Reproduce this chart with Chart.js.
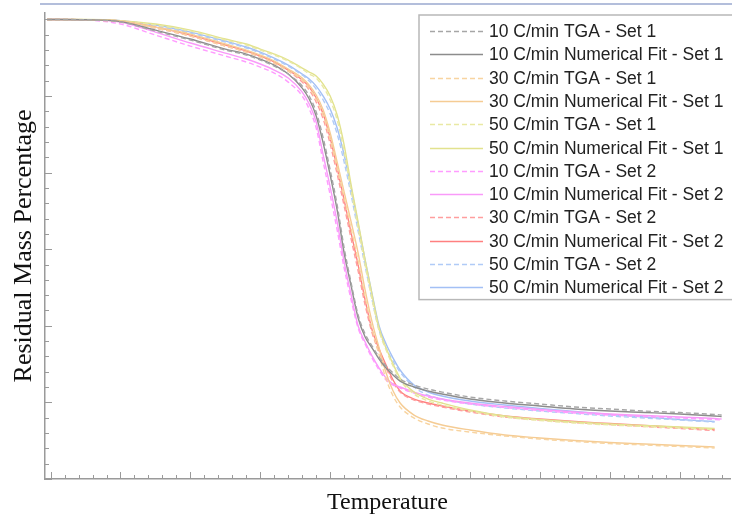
<!DOCTYPE html>
<html>
<head>
<meta charset="utf-8">
<title>Residual Mass Percentage vs Temperature</title>
<script src="https://cdn.jsdelivr.net/npm/chart.js@4.4.1/dist/chart.umd.min.js"></script>
<style>
  html, body { margin: 0; padding: 0; background: #fff; }
  #wrap { position: relative; width: 732px; height: 521px; }
  #topRule { position: absolute; left: 40px; top: 3px; width: 692px; height: 2px; background: #b3bedb; }
</style>
</head>
<body>
<div id="wrap">
  <div id="topRule"></div>
  <canvas id="mainChart"></canvas>
</div>
<script>
// Temperature points shared by every curve
const temperatures = [-5, 50, 100, 150, 200, 250, 280, 300, 320, 340, 360, 370, 380, 390, 400, 410, 420, 430, 440, 450,
  460, 470, 480, 490, 500, 520, 540, 560, 600, 650, 700, 750, 800, 850, 900, 950, 960];

// Residual mass (%) per curve
const tga10Set1 = [100.0, 99.96, 99.66, 98.48, 97.31, 96.00, 95.35, 94.70, 93.91, 92.87, 91.30, 90.00, 87.91, 84.51, 80.33, 75.76, 70.15, 65.58, 61.41, 58.93,
  57.36, 55.92, 54.75, 53.84, 53.05, 52.27, 51.75, 51.35, 50.70, 50.18, 49.79, 49.40, 49.14, 48.87, 48.68, 48.42, 48.35];
const fit10Set1 = [100.0, 99.96, 99.72, 98.61, 97.44, 96.13, 95.48, 94.83, 94.04, 92.87, 91.04, 89.61, 87.39, 83.86, 79.68, 75.11, 69.50, 65.19, 61.02, 58.53,
  57.10, 55.66, 54.49, 53.57, 52.79, 52.01, 51.49, 51.09, 50.44, 49.92, 49.53, 49.14, 48.87, 48.68, 48.48, 48.22, 48.16];
const tga30Set1 = [100.0, 99.95, 99.66, 98.87, 97.83, 96.53, 95.74, 95.09, 94.31, 93.26, 92.09, 91.04, 89.61, 87.52, 84.38, 80.60, 76.68, 72.63, 68.45, 63.76,
  59.58, 56.18, 53.05, 50.83, 49.40, 47.96, 47.18, 46.66, 46.13, 45.61, 45.22, 44.89, 44.63, 44.44, 44.24, 44.05, null];
const fit30Set1 = [100.0, 99.97, 99.79, 99.00, 98.09, 96.79, 96.00, 95.35, 94.57, 93.52, 92.35, 91.43, 90.13, 88.17, 85.17, 81.38, 77.46, 73.55, 69.50, 64.67,
  60.49, 57.10, 53.84, 51.49, 49.92, 48.35, 47.57, 47.05, 46.39, 45.74, 45.35, 45.02, 44.76, 44.57, 44.37, 44.17, null];
const tga50Set1 = [100.0, 99.97, 99.79, 99.27, 98.48, 97.31, 96.66, 96.00, 95.35, 94.57, 93.52, 92.87, 92.35, 91.17, 89.47, 86.86, 82.69, 77.60, 72.76, 67.93,
  63.37, 59.32, 56.84, 54.75, 52.92, 51.09, 50.18, 49.66, 48.87, 48.09, 47.64, 47.31, 47.05, 46.85, 46.66, 46.46, null];
const fit50Set1 = [100.0, 99.99, 99.85, 99.40, 98.61, 97.44, 96.79, 96.13, 95.48, 94.70, 93.65, 93.13, 92.61, 91.56, 90.00, 87.52, 83.60, 78.38, 73.55, 68.59,
  64.02, 59.71, 57.10, 55.01, 53.18, 51.36, 50.44, 49.92, 49.01, 48.22, 47.77, 47.44, 47.18, 46.98, 46.79, 46.59, null];
const tga10Set2 = [100.0, 99.92, 99.40, 97.96, 96.52, 95.22, 94.44, 93.78, 93.00, 91.82, 90.00, 88.30, 85.82, 81.38, 77.07, 72.50, 67.54, 63.37, 59.71, 57.62,
  55.79, 54.23, 52.92, 52.27, 51.88, 51.22, 50.70, 50.31, 49.79, 49.33, 48.94, 48.61, 48.35, 48.16, 47.96, 47.76, 47.70];
const fit10Set2 = [100.0, 99.97, 99.66, 98.35, 96.92, 95.61, 94.83, 94.18, 93.39, 92.35, 90.52, 88.95, 86.60, 82.30, 78.12, 73.55, 68.33, 64.02, 59.97, 57.88,
  56.05, 54.49, 53.18, 52.40, 52.01, 51.35, 50.83, 50.44, 49.92, 49.46, 49.07, 48.74, 48.48, 48.29, 48.09, 47.89, 47.83];
const tga30Set2 = [100.0, 99.96, 99.72, 98.87, 97.83, 96.53, 95.74, 95.09, 94.31, 93.26, 91.82, 90.78, 89.21, 86.99, 83.73, 79.81, 75.64, 71.33, 67.15, 62.71,
  59.06, 56.58, 54.49, 52.66, 51.35, 50.31, 49.79, 49.40, 48.74, 48.09, 47.70, 47.37, 47.11, 46.85, 46.59, 46.33, null];
const fit30Set2 = [100.0, 99.97, 99.79, 99.00, 97.96, 96.66, 95.87, 95.22, 94.44, 93.39, 92.09, 91.17, 89.74, 87.65, 84.51, 80.60, 76.42, 72.11, 67.93, 63.37,
  59.45, 56.97, 54.88, 52.92, 51.49, 50.44, 49.92, 49.53, 48.87, 48.22, 47.83, 47.50, 47.24, 46.98, 46.72, 46.46, null];
const tga50Set2 = [100.0, 99.96, 99.79, 99.14, 98.22, 97.05, 96.27, 95.61, 94.83, 93.91, 92.74, 91.96, 90.91, 89.48, 87.65, 85.04, 81.38, 77.07, 72.37, 67.80,
  63.37, 59.45, 57.10, 55.40, 53.97, 52.01, 50.96, 50.44, 49.79, 49.27, 48.87, 48.55, 48.22, 47.96, 47.70, 47.44, null];
const fit50Set2 = [100.0, 99.97, 99.85, 99.27, 98.35, 97.18, 96.40, 95.74, 94.96, 94.04, 92.87, 92.22, 91.30, 89.99, 88.30, 85.82, 82.30, 77.99, 73.29, 68.59,
  64.15, 59.97, 57.62, 55.79, 54.23, 52.27, 51.36, 50.83, 50.18, 49.66, 49.20, 48.81, 48.42, 48.09, 47.77, 47.50, null];

// Axis ticks (no labels in the original, only tick marks)
const xMajorTicks = [0, 100, 200, 300, 400, 500, 600, 700, 800, 900];
const yMajorTicks = [40, 50, 60, 70, 80, 90, 100];
const minorPerMajor = 5;

const series = [
  { label: '10 C/min TGA - Set 1', values: tga10Set1, color: '#a6a6a6', dashed: true },
  { label: '10 C/min Numerical Fit - Set 1', values: fit10Set1, color: '#8c8c8c', dashed: false },
  { label: '30 C/min TGA - Set 1', values: tga30Set1, color: '#f8d4a0', dashed: true },
  { label: '30 C/min Numerical Fit - Set 1', values: fit30Set1, color: '#f5cc94', dashed: false },
  { label: '50 C/min TGA - Set 1', values: tga50Set1, color: '#e9e9a4', dashed: true },
  { label: '50 C/min Numerical Fit - Set 1', values: fit50Set1, color: '#e2e28e', dashed: false },
  { label: '10 C/min TGA - Set 2', values: tga10Set2, color: '#ff9cff', dashed: true },
  { label: '10 C/min Numerical Fit - Set 2', values: fit10Set2, color: '#f99af9', dashed: false },
  { label: '30 C/min TGA - Set 2', values: tga30Set2, color: '#ff9e9e', dashed: true },
  { label: '30 C/min Numerical Fit - Set 2', values: fit30Set2, color: '#ff8080', dashed: false },
  { label: '50 C/min TGA - Set 2', values: tga50Set2, color: '#b0cbf7', dashed: true },
  { label: '50 C/min Numerical Fit - Set 2', values: fit50Set2, color: '#a3c0f5', dashed: false }
];

function buildTicks(majors, max) {
  const ticks = [];
  const step = (majors[1] - majors[0]) / minorPerMajor;
  majors.forEach((m, i) => {
    ticks.push({ value: m, major: true });
    const next = i < majors.length - 1 ? majors[i + 1] : max;
    for (let v = m + step; v < next - 1e-6; v += step) ticks.push({ value: v, major: false });
  });
  return ticks;
}

// inward tick marks
const tickMarks = {
  id: 'tickMarks',
  afterDraw(chart) {
    const { ctx, chartArea: a, scales: { x, y } } = chart;
    ctx.save();
    ctx.strokeStyle = '#9a9a9a';
    ctx.lineWidth = 1;
    x.ticks.forEach(t => {
      const px = Math.round(x.getPixelForValue(t.value)) + 0.5;
      ctx.beginPath();
      ctx.moveTo(px, a.bottom);
      ctx.lineTo(px, a.bottom - (t.major ? 7 : 4));
      ctx.stroke();
    });
    y.ticks.forEach(t => {
      const py = Math.round(y.getPixelForValue(t.value)) + 0.5;
      ctx.beginPath();
      ctx.moveTo(a.left, py);
      ctx.lineTo(a.left + (t.major ? 7 : 4), py);
      ctx.stroke();
    });
    ctx.restore();
  }
};

// legend box in the upper right corner
const legendBox = {
  id: 'legendBox',
  afterDraw(chart) {
    const { ctx, chartArea: a } = chart;
    const left = a.left + 374;
    const top = a.top + 2;
    const rowH = 23.3;
    const datasets = chart.data.datasets;
    ctx.save();
    ctx.fillStyle = '#fff';
    ctx.fillRect(left, top, chart.width - left + 5, datasets.length * rowH + 5);
    ctx.strokeStyle = '#b8b8b8';
    ctx.lineWidth = 1.5;
    ctx.strokeRect(left, top, chart.width - left + 5, datasets.length * rowH + 5);
    ctx.font = '17.5px "Liberation Sans", Arial, sans-serif';
    ctx.textBaseline = 'middle';
    datasets.forEach((ds, i) => {
      const cy = Math.round(top + 16 + i * rowH) + 0.5;
      ctx.strokeStyle = ds.borderColor;
      ctx.lineWidth = 1.5;
      ctx.setLineDash(ds.borderDash || []);
      ctx.beginPath();
      ctx.moveTo(left + 11, cy);
      ctx.lineTo(left + 64, cy);
      ctx.stroke();
      ctx.setLineDash([]);
      ctx.fillStyle = '#222';
      ctx.fillText(ds.label, left + 70, cy + 0.5);
    });
    ctx.restore();
  }
};

const datasets = series.map(s => ({
  label: s.label,
  data: temperatures.map((t, i) => ({ x: t, y: s.values[i] })).filter(p => p.y !== null),
  borderColor: s.color,
  backgroundColor: s.color,
  borderWidth: 1.4,
  borderDash: s.dashed ? [5, 3] : [],
  pointRadius: 0,
  cubicInterpolationMode: 'monotone',
  fill: false
}));

const serif = '"Liberation Serif", "Times New Roman", serif';

new Chart(document.getElementById('mainChart'), {
  type: 'line',
  data: { datasets },
  options: {
    responsive: true,
    maintainAspectRatio: false,
    animation: false,
    layout: { padding: { top: 13, right: 2, left: 0, bottom: 0 } },
    plugins: { legend: { display: false }, tooltip: { enabled: false } },
    scales: {
      x: {
        type: 'linear',
        min: -8,
        max: 972,
        afterBuildTicks: scale => { scale.ticks = buildTicks(xMajorTicks, scale.max); },
        ticks: { display: false },
        grid: { display: false, drawTicks: false },
        border: { display: true, color: '#9a9a9a', width: 1.5 },
        title: { display: true, text: 'Temperature', color: '#111', font: { family: serif, size: 24 }, padding: { top: 9.6, bottom: 3.6 } }
      },
      y: {
        type: 'linear',
        min: 40,
        max: 100.84,
        afterBuildTicks: scale => { scale.ticks = buildTicks(yMajorTicks, scale.max); },
        ticks: { display: false },
        grid: { display: false, drawTicks: false },
        border: { display: true, color: '#9a9a9a', width: 1.5 },
        title: { display: true, text: 'Residual Mass Percentage', color: '#111', font: { family: serif, size: 26 }, padding: { top: 8.4, bottom: 5.4 } }
      }
    }
  },
  plugins: [tickMarks, legendBox]
});
</script>
</body>
</html>
